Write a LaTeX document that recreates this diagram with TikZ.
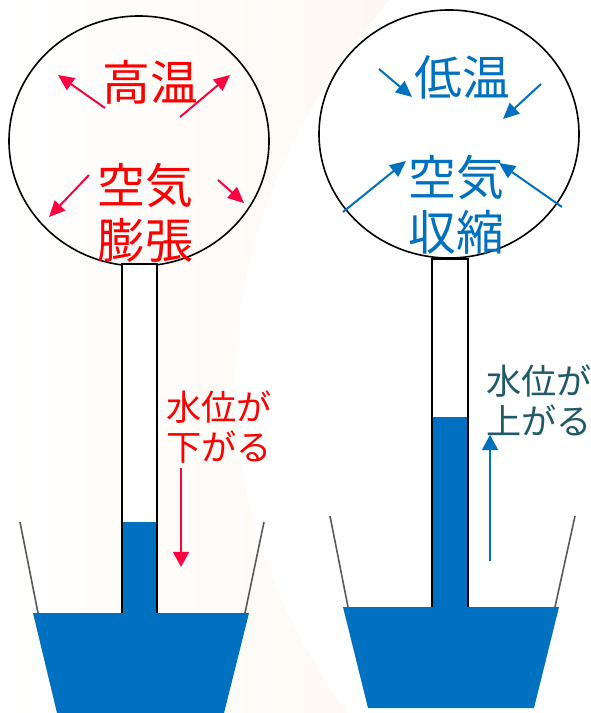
\documentclass[tikz,border=0pt]{standalone}
\usepackage{fontspec}
\setmainfont{Noto Sans CJK JP}
\usetikzlibrary{arrows.meta}
\definecolor{hot}{HTML}{FF0000}
\definecolor{hotarrow}{HTML}{FF0040}
\definecolor{water}{HTML}{0070C0}
\definecolor{level}{HTML}{215968}
\definecolor{glass}{HTML}{595959}
\definecolor{cream}{HTML}{FEF8F3}

\begin{document}
\begin{tikzpicture}[x=.25mm,y=-.25mm,
    >={Triangle[length=4mm,width=3.6mm]},
    bigjp/.style={font=\fontsize{34}{39}\selectfont,inner sep=0pt,align=center},
    smalljp/.style={font=\fontsize{25}{28.5}\selectfont,inner sep=0pt,align=left},
    air/.style={line width=.5mm,->},
    rise/.style={line width=.5mm,->,>={Triangle[length=3.8mm,width=4mm]}}]
  \useasboundingbox (0,0) rectangle (590,713);
  % soft backdrop
  \shade[left color=white,right color=cream]
    (0,0) -- (390,0) .. controls (230,180) and (160,450) .. (347,713)
    -- (0,713) -- cycle;

  % warm side
  \draw[line width=.4mm] (139,141) ellipse [x radius=130,y radius=125];
  \fill[white] (122,264) rectangle (157,620);
  \fill[water] (122,522) rectangle (157,620);
  \draw[line width=.35mm] (122,620) -- (122,264) -- (157,264) -- (157,620);
  \draw[glass,line width=.4mm] (20,522) -- (38,613) (264,522) -- (245,613);
  \fill[water] (33,613) -- (249,613) -- (224,713) -- (57,713) -- cycle;
  \begin{scope}[hotarrow]
    \draw[air] (105,108) -- (58,75);
    \draw[air] (180,117) -- (230,75);
    \draw[air] (89,175) -- (49,217);
    \draw[air] (218,180) -- (244,203);
    \draw[rise] (181,468) -- (181,567);
  \end{scope}
  \node[bigjp,hot] (warm) at (150,82) {高温};
  \node[bigjp,hot] (expand) at (145,213) {空気\\膨張};
  \node[smalljp,hot,anchor=west] (fall) at (166,427) {水位が\\下がる};

  % cool side
  \draw[line width=.4mm] (449,134) ellipse [x radius=130,y radius=124];
  \fill[white] (432,259) rectangle (468,615);
  \fill[water] (432,417) rectangle (468,615);
  \draw[line width=.35mm] (432,615) -- (432,259) -- (468,259) -- (468,615);
  \draw[glass,line width=.4mm] (330,516) -- (348,607) (575,516) -- (555,607);
  \fill[water] (343,607) -- (559,607) -- (534,708) -- (368,708) -- cycle;
  \begin{scope}[water]
    \draw[air] (379,69) -- (412,97);
    \draw[air] (541,84) -- (503,119);
    \draw[air] (343,212) -- (406,161);
    \draw[air] (562,207) -- (499,163);
    \draw[rise] (490,561) -- (490,435);
  \end{scope}
  \node[bigjp,water] (cool) at (462,77) {低温};
  \node[bigjp,water] (shrink) at (456,205) {空気\\収縮};
  \node[smalljp,level,anchor=west] (up) at (486,400) {水位が\\上がる};
\end{tikzpicture}
\end{document}
